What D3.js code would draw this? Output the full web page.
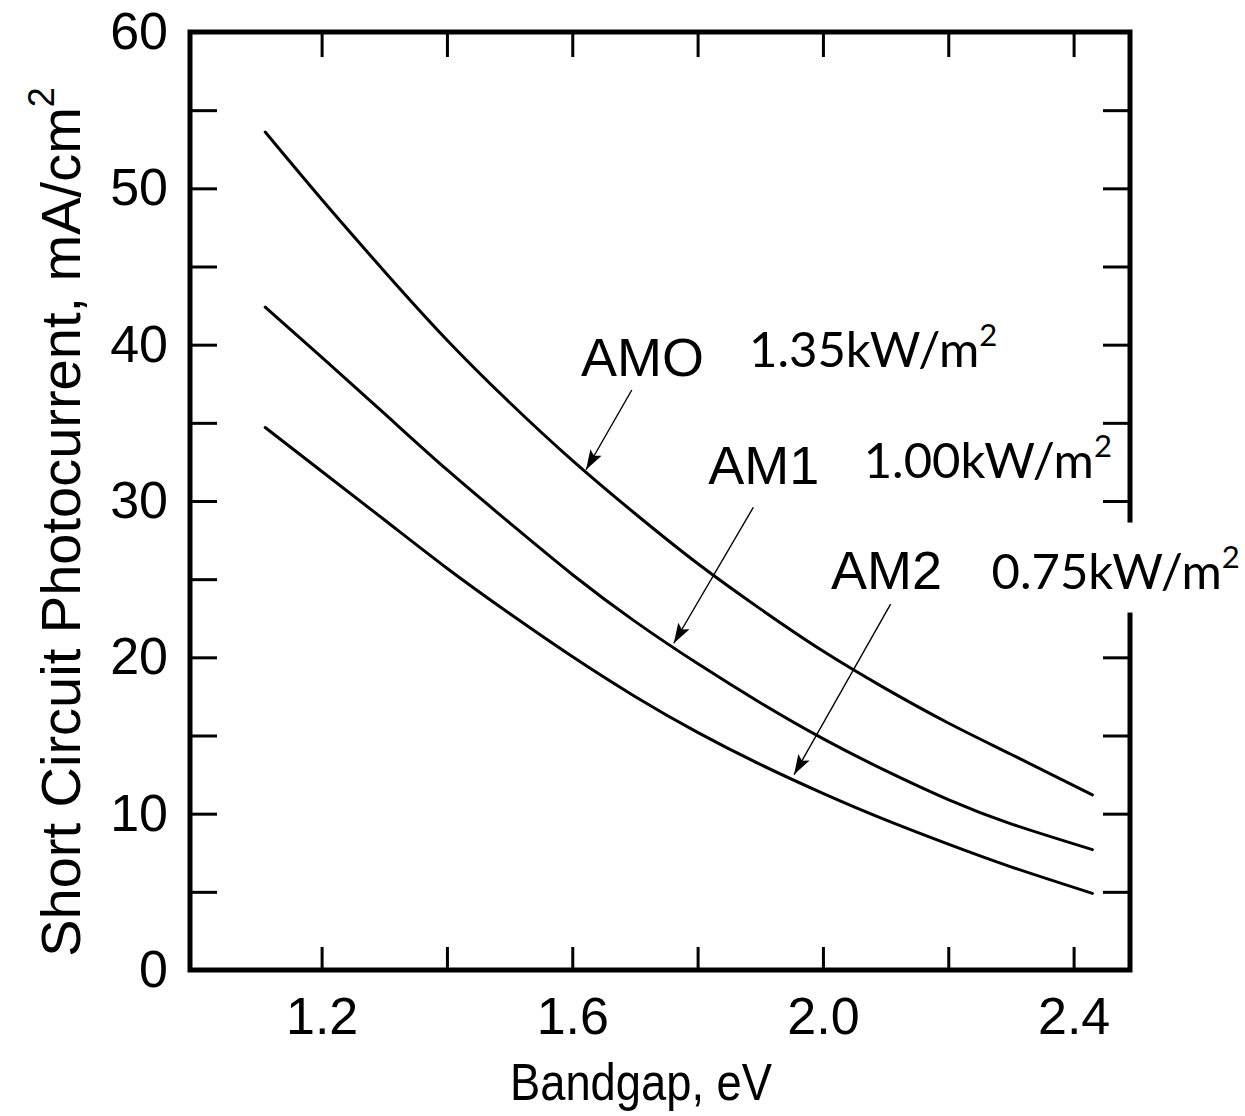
<!DOCTYPE html>
<html>
<head>
<meta charset="utf-8">
<script src="https://cdn.jsdelivr.net/npm/d3@7"></script>
<style>
  html, body { margin: 0; padding: 0; background: #fff; }
  svg { display: block; }
</style>
</head>
<body>
<svg id="chart" width="1245" height="1116"></svg>
<script>
// Bandgap grid (eV) and short-circuit photocurrent (mA/cm^2) for each spectrum
const bandgap = [1.11, 1.2, 1.3, 1.4, 1.5, 1.6, 1.7, 1.8, 1.9, 2.0, 2.1, 2.2, 2.3, 2.43];
const am0 = [53.6, 49.3, 44.7, 40.3, 36.3, 32.6, 29.2, 26.0, 23.1, 20.4, 18.0, 15.8, 13.8, 11.2];
const am1 = [42.4, 39.2, 35.6, 32.0, 28.6, 25.3, 22.3, 19.6, 17.1, 14.8, 12.75, 10.9, 9.35, 7.7];
const am2 = [34.7, 31.9, 28.8, 25.7, 22.8, 20.05, 17.5, 15.2, 13.15, 11.3, 9.6, 8.05, 6.6, 4.9];

// Axis ticks
const xTicks = [1.2, 1.4, 1.6, 1.8, 2.0, 2.2, 2.4];
const xLabels = [1.2, 1.6, 2.0, 2.4];
const yTicks = [0, 5, 10, 15, 20, 25, 30, 35, 40, 45, 50, 55, 60];
const yLabels = [0, 10, 20, 30, 40, 50, 60];

// Curve labels: name, irradiance, name anchor, irradiance anchor (data units)
const seriesNames = ["AMO", "AM1", "AM2"];
const irradiance = ["1.35kW/m", "1.00kW/m", "0.75kW/m"];
const nameAt = [[1.614, 38.0], [1.817, 31.1], [2.013, 24.4]];
const irrAt = [[1.882, 38.6], [2.065, 31.5], [2.269, 24.4]];
// Pointer arrows: [start, tip] in data units
const arrows = [
  [[1.695, 37.1], [1.622, 32.0]],
  [[1.889, 29.6], [1.762, 20.9]],
  [[2.108, 23.4], [1.954, 12.5]]
];

const svg = d3.select("#chart");
const plotL = 190, plotR = 1130, plotT = 32, plotB = 970;

const x = d3.scaleLinear().domain([0.99, 2.49]).range([plotL, plotR]);
const y = d3.scaleLinear().domain([0, 60]).range([plotB, plotT]);

const helv = "'Liberation Sans', Arial, Helvetica, sans-serif";
const calib = "Lato, 'Open Sans', sans-serif";

// Axes with inward ticks on all four sides
const fmtX = d => xLabels.some(v => Math.abs(v - d) < 1e-9) ? d3.format(".1f")(d) : "";
const fmtY = d => yLabels.includes(d) ? String(d) : "";

const gB = svg.append("g").attr("transform", `translate(0,${plotB})`)
  .call(d3.axisBottom(x).tickValues(xTicks).tickSize(-23).tickPadding(27).tickFormat(fmtX));
const gT = svg.append("g").attr("transform", `translate(0,${plotT})`)
  .call(d3.axisTop(x).tickValues(xTicks).tickSize(-25).tickFormat(""));
const gL = svg.append("g").attr("transform", `translate(${plotL},0)`)
  .call(d3.axisLeft(y).tickValues(yTicks).tickSize(-27).tickPadding(22).tickFormat(fmtY));
const gR = svg.append("g").attr("transform", `translate(${plotR},0)`)
  .call(d3.axisRight(y).tickValues(yTicks.filter(v => v > 0 && v < 60)).tickSize(-27).tickFormat(""));

[gB, gT, gL, gR].forEach(g => {
  g.select(".domain").remove();
  g.selectAll(".tick line").attr("stroke", "#000").attr("stroke-width", 3);
  g.selectAll("text").attr("font-family", helv).attr("font-size", 52).attr("fill", "#000");
});

// Frame
svg.append("rect")
  .attr("x", plotL).attr("y", plotT)
  .attr("width", plotR - plotL).attr("height", plotB - plotT)
  .attr("fill", "none").attr("stroke", "#000").attr("stroke-width", 5);

// Curves
const line = d3.line()
  .x((d, i) => x(bandgap[i]))
  .y(d => y(d))
  .curve(d3.curveNatural);

[am0, am1, am2].forEach(s => {
  svg.append("path").attr("d", line(s))
    .attr("fill", "none").attr("stroke", "#000")
    .attr("stroke-width", 3).attr("stroke-linecap", "round");
});

// Arrowhead
svg.append("defs").append("marker")
  .attr("id", "head").attr("viewBox", "0 0 20 13")
  .attr("refX", 20).attr("refY", 6.5)
  .attr("markerWidth", 20).attr("markerHeight", 13)
  .attr("markerUnits", "userSpaceOnUse")
  .attr("orient", "auto")
  .append("path").attr("d", "M0,0 L20,6.5 L0,13 L4,6.5 Z").attr("fill", "#000");

arrows.forEach(([a, b]) => {
  svg.append("line")
    .attr("x1", x(a[0])).attr("y1", y(a[1]))
    .attr("x2", x(b[0])).attr("y2", y(b[1]))
    .attr("stroke", "#000").attr("stroke-width", 1.4)
    .attr("marker-end", "url(#head)");
});

// Series names
seriesNames.forEach((n, i) => {
  svg.append("text")
    .attr("x", x(nameAt[i][0])).attr("y", y(nameAt[i][1]))
    .attr("font-family", helv).attr("font-size", 54).attr("fill", "#000")
    .text(n);
});

// Irradiance labels (the last one sits on a white box over the frame)
irradiance.forEach((t, i) => {
  const tx = svg.append("text")
    .attr("x", x(irrAt[i][0])).attr("y", y(irrAt[i][1]))
    .attr("font-family", calib).attr("font-size", 49).attr("fill", "#000");
  tx.append("tspan").text(t);
  tx.append("tspan").attr("font-size", 31).attr("dy", -21).text("2");
  if (i === 2) {
    const bb = tx.node().getBBox();
    svg.insert("rect", function () { return tx.node(); })
      .attr("x", bb.x - 12).attr("y", bb.y - 14)
      .attr("width", bb.width + 30).attr("height", bb.height + 28)
      .attr("fill", "#fff");
  }
});

// Axis titles
svg.append("text")
  .attr("x", 641).attr("y", 1100)
  .attr("text-anchor", "middle")
  .attr("font-family", helv).attr("font-size", 52).attr("fill", "#000")
  .attr("textLength", 262).attr("lengthAdjust", "spacingAndGlyphs")
  .text("Bandgap, eV");

const yt = svg.append("text")
  .attr("transform", `translate(80,522) rotate(-90)`)
  .attr("text-anchor", "middle")
  .attr("font-family", helv).attr("font-size", 56).attr("fill", "#000");
yt.append("tspan").text("Short Circuit Photocurrent, mA/cm");
yt.append("tspan").attr("font-size", 36).attr("dy", -26).text("2");
</script>
</body>
</html>
